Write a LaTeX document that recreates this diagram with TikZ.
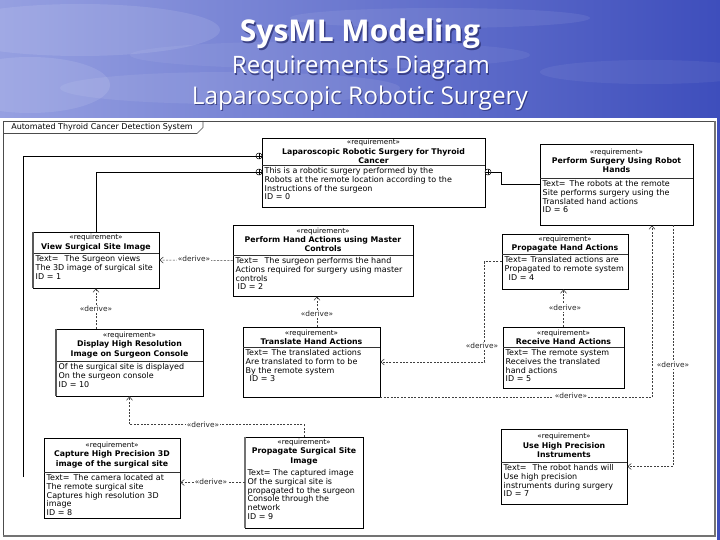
\documentclass[tikz,border=0pt]{standalone}
\usepackage{fontspec}
\setmainfont{DejaVu Sans}
\newfontfamily\titlefont{Open Sans}
\usetikzlibrary{arrows.meta,fit,calc}
\definecolor{skyL}{RGB}{150,160,225}
\definecolor{skyR}{RGB}{62,78,188}
\definecolor{shadowC}{RGB}{40,45,110}
\newcommand{\stereo}{{\mdseries\fontsize{7.2}{9.2}\selectfont «requirement»}}
\newcommand{\reqbox}[9]{%
  \node[reqbox, fit={(#2,#3) (#4,#5)}] (#1) {};
  \draw[#9] (#2,#6) -- (#4,#6);
  \node[reqhead] at ({(#2+#4)/2},{(#3+#6)/2}) {#7};
  \node[reqbody] at ({#2+2.5},{#6+2.3}) {#8};
}
\begin{document}
\begin{tikzpicture}[x=1pt,y=-1pt,
  reqbox/.style={draw=black, line width=0.7pt, fill=white, inner sep=0pt},
  reqhead/.style={align=center, inner sep=0pt, font=\fontsize{7.8}{9.3}\selectfont\bfseries},
  reqbody/.style={anchor=north west, align=left, inner sep=0pt, font=\fontsize{8}{8.8}\selectfont},
  sepline/.style={line width=0.5pt, black!80},
  derive/.style={line width=0.5pt, black!75, dash pattern=on 2pt off 1.4pt, -{Straight Barb[length=3.5pt,width=6pt,line width=0.6pt]}},
  dlabel/.style={fill=white, inner sep=0.8pt, font=\fontsize{7.4}{8}\selectfont, text=black!85},
  contain/.style={line width=0.6pt, black},
  cplus/.style={circle, draw, line width=0.5pt, fill=white, minimum size=6pt, inner sep=0pt,
    path picture={\draw[line width=0.5pt] (path picture bounding box.north) -- (path picture bounding box.south)
      (path picture bounding box.west) -- (path picture bounding box.east);}},
  ttl/.style={text=white, inner sep=0pt},
  ttlsh/.style={text=shadowC, opacity=0.75, inner sep=0pt}
]
\useasboundingbox (0,0) rectangle (720,540);
% sky background
\shade[left color=skyL, right color=skyR] (0,0) rectangle (720,540);
\fill[white, opacity=0.10] (80,30) ellipse (140 and 26);
\fill[white, opacity=0.08] (230,88) ellipse (170 and 16);
\fill[white, opacity=0.07] (440,18) ellipse (150 and 10);
\fill[white, opacity=0.06] (650,72) ellipse (110 and 12);
\fill[white, opacity=0.10] (30,85) ellipse (80 and 28);
\fill[white, opacity=0.06] (330,55) ellipse (200 and 14);
% diagram area
\fill[white] (0,118) rectangle (717,540);
\draw[line width=0.6pt, black!70] (3,121) rectangle (714,535);
\draw[line width=2pt, black!55] (714.5,121) -- (714.5,535.5) -- (3,535.5);
\draw[line width=0.6pt, black!70] (3,133.5) -- (197,133.5) -- (203,127.5) -- (203,121);
\node[inner sep=0pt, font=\fontsize{8}{9}\selectfont] (frametitle) at (102,127.5) {Automated Thyroid Cancer Detection System};
% titles
\node[ttlsh] at (361.5,35.5) {\resizebox{240pt}{!}{\titlefont\bfseries SysML Modeling}};
\node[ttl] (t1) at (360,34) {\resizebox{240pt}{!}{\titlefont\bfseries SysML Modeling}};
\node[ttlsh] at (362,69.5) {\resizebox{258pt}{!}{\titlefont Requirements Diagram}};
\node[ttl] (t2) at (361,68) {\resizebox{258pt}{!}{\titlefont Requirements Diagram}};
\node[ttlsh] at (361,99.5) {\resizebox{336pt}{!}{\titlefont Laparoscopic Robotic Surgery}};
\node[ttl] (t3) at (360,98) {\resizebox{336pt}{!}{\titlefont Laparoscopic Robotic Surgery}};
% requirement boxes
\reqbox{b0}{262}{138}{485}{207}{165}{\stereo\\Laparoscopic Robotic Surgery for Thyroid\\Cancer}{This is a robotic surgery performed by the\\Robots at the remote location according to the\\Instructions of the surgeon\\ID = 0}{sepline}
\reqbox{b6}{540}{144}{693}{225}{178}{\stereo\\Perform Surgery Using Robot\\Hands}{Text=\hspace{4pt}The robots at the remote\\Site performs surgery using the\\Translated hand actions\\ID = 6}{sepline}
\reqbox{b1}{33}{232}{159}{288}{253}{\stereo\\View Surgical Site Image}{Text=\hspace{6pt}The Surgeon views\\The 3D image of surgical site\\ID = 1}{sepline}
\reqbox{b2}{233}{225}{413}{296}{255}{\stereo\\Perform Hand Actions using Master\\Controls}{Text=\hspace{6pt}The surgeon performs the hand\\Actions required for surgery using master\\controls\\\hspace{2pt}ID = 2}{sepline}
\reqbox{b4}{502}{234}{628}{289}{254}{\stereo\\Propagate Hand Actions}{Text=\hspace{3pt}Translated actions are\\Propagated to remote system\\\hspace{4pt}ID = 4}{sepline}
\reqbox{b10}{56}{329}{203}{396}{361}{\stereo\\Display High Resolution\\Image on Surgeon Console}{Of the surgical site is displayed\\On the surgeon console\\ID = 10}{sepline}
\reqbox{b3}{243}{327}{380}{397}{347}{\stereo\\Translate Hand Actions}{Text=\hspace{3pt}The translated actions\\Are translated to form to be\\By the remote system\\\hspace{4pt}ID = 3}{sepline}
\reqbox{b5}{503}{327}{624}{388}{347}{\stereo\\Receive Hand Actions}{Text=\hspace{3pt}The remote system\\Receives the translated\\hand actions\\ID = 5}{sepline}
\reqbox{b8}{44}{438}{180}{518}{472}{\stereo\\Capture High Precision 3D\\image of the surgical site}{Text=\hspace{4pt}The camera located at\\The remote surgical site\\Captures high resolution 3D\\image\\ID = 8}{sepline}
\reqbox{b9}{245}{437}{363}{528}{467}{\stereo\\Propagate Surgical Site\\Image}{Text= The captured image\\Of the surgical site is\\propagated to the surgeon\\Console through the\\network\\ID = 9}{draw=none}
\reqbox{b7}{501}{429}{627}{504}{462}{\stereo\\Use High Precision\\Instruments}{Text=\hspace{6pt}The robot hands will\\Use high precision\\instruments during surgery\\ID = 7}{sepline}
% darker left edges
\draw[line width=1.8pt, black!65] (b1.north west) -- (b1.south west);
\draw[line width=1.8pt, black!65] (b10.north west) -- (b10.south west);
\draw[line width=1.8pt, black!55] (b9.north west) -- (b9.south west);
% containment
\node[cplus] (c1) at (259,156) {};
\node[cplus] (c2) at (259,172) {};
\node[cplus] (c3) at (488,172) {};
\coordinate (l0) at (23,477);
\draw[contain] (l0) |- (c1.west);
\draw[contain] (b1.north) |- (c2.west);
\draw[contain] (c3.east) -- ++(10,0) |- (b6.west);
% derive relations
\draw[derive] (b2.west) -- (b1.east);
\node[dlabel] (lab1) at (194,259) {«derive»};
\draw[derive] (b10.north -| b1.south) -- (b1.south);
\node[dlabel] (lab2) at (96,309) {«derive»};
\coordinate (d3) at ($(b3.north)+(5.5,0)$);
\draw[derive] (d3) -- (d3 |- b2.south);
\node[dlabel] (lab3) at (317,314) {«derive»};
\draw[derive] (b5.north) -- (b5.north |- b4.south);
\node[dlabel] (lab4) at (565,308) {«derive»};
\draw[derive] (b4.west) -- ++(-17,0) |- (b3.east);
\node[dlabel] (lab5) at (482,346) {«derive»};
\coordinate (d6) at ($(b6.south)+(35.5,0)$);
\draw[derive] (b3.south east) -| (d6);
\node[dlabel] (lab6) at (571,396) {«derive»};
\coordinate (d7) at ($(b6.south)+(56.5,0)$);
\draw[derive] (d7) |- (b7.east);
\node[dlabel] (lab7) at (673,365) {«derive»};
\draw[derive] (b9.north) -- ++(0,-12) -| (b10.south);
\node[dlabel] (lab8) at (203,425) {«derive»};
\draw[derive] (b9.west) -- (b9.west -| b8.east);
\node[dlabel] (lab9) at (211,482) {«derive»};
\end{tikzpicture}
\end{document}
